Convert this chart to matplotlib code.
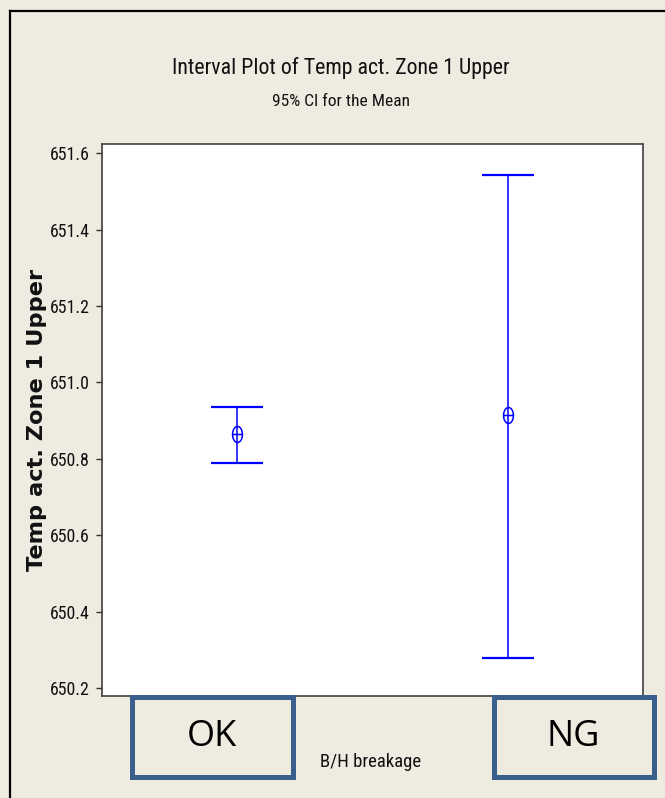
import matplotlib
matplotlib.use("Agg")
import matplotlib.pyplot as plt
from matplotlib.path import Path
from matplotlib.patches import Rectangle
from matplotlib.lines import Line2D
import numpy as np

# 95% confidence intervals for the mean, by breakage group
groups = ["OK", "NG"]
ci_mean = [650.866, 650.914]
ci_lower = [650.789, 650.278]
ci_upper = [650.936, 651.544]
y_ticks = [650.2, 650.4, 650.6, 650.8, 651.0, 651.2, 651.4, 651.6]

W, H = 665, 798
BG = "#eeebe1"
BLUE = "#0000ff"
BOX_EDGE = "#3a5f8d"
NARROW = ["Roboto Condensed", "Liberation Sans Narrow", "Liberation Sans",
          "DejaVu Sans"]


def fx(px):
    return px / W


def fy(py):
    return 1 - py / H


fig = plt.figure(figsize=(W / 100, H / 100), dpi=100, facecolor=BG)
ax = fig.add_axes([fx(102), fy(696), (643 - 102) / W, (696 - 144) / H])
ax.set_facecolor("white")

x = np.arange(1, len(groups) + 1)

# upright ellipse with a horizontal bar for the mean symbol
t = np.linspace(0, 2 * np.pi, 41)
ell = np.column_stack([0.31 * np.cos(t), 0.5 * np.sin(t)])
verts = list(ell) + [(-0.31, 0.0), (0.31, 0.0)]
codes = ([Path.MOVETO] + [Path.LINETO] * (len(ell) - 2) + [Path.CLOSEPOLY]
         + [Path.MOVETO, Path.LINETO])
mean_marker = Path(verts, codes)

mean = np.array(ci_mean)
yerr = [mean - np.array(ci_lower), np.array(ci_upper) - mean]
ax.errorbar(x, mean, yerr=yerr, fmt="none", ecolor=BLUE, elinewidth=1.1,
            capsize=18.7, capthick=1.6)
ax.plot(x, mean, linestyle="none", marker=mean_marker, markersize=11.5,
        markerfacecolor="none", markeredgecolor=BLUE, markeredgewidth=1.1)

ax.set_xlim(0.5, 2.5)
ax.set_ylim(650.179, 651.624)
ax.set_yticks(y_ticks)
ax.set_yticklabels([f"{v:.1f}" for v in y_ticks])
ax.set_xticks([])
ax.tick_params(axis="y", direction="out", length=4, width=1, color="#333333",
               pad=5, labelsize=13, labelcolor="#111111")
for lab in ax.get_yticklabels():
    lab.set_family(NARROW)
for sp in ax.spines.values():
    sp.set_color("#404040")
    sp.set_linewidth(1.2)

# titles and axis labels
title = fig.text(fx(341), fy(68), "Interval Plot of Temp act. Zone 1 Upper",
                 ha="center", va="center", fontsize=16, family=NARROW,
                 color="#111111")
subtitle = fig.text(fx(341), fy(102), "95% CI for the Mean",
                    ha="center", va="center", fontsize=12.5, family=NARROW,
                    color="#111111")
ylab = fig.text(fx(37), fy(420), "Temp act. Zone 1 Upper", rotation=90,
                ha="center", va="center", fontsize=13, fontweight="bold",
                family="DejaVu Sans", color="#111111")
xlab = fig.text(fx(371), fy(762), "B/H breakage", ha="center", va="center",
                fontsize=14, family=NARROW, color="#111111")

# group label boxes below the axis
for (x0, x1), name in zip([(131.5, 292.5), (493.5, 653.5)], groups):
    rect = Rectangle((fx(x0), fy(776.5)), (x1 - x0) / W, (776.5 - 696.5) / H,
                     transform=fig.transFigure, facecolor=BG,
                     edgecolor=BOX_EDGE, linewidth=3.6, zorder=5)
    fig.add_artist(rect)
    fig.text(fx((x0 + x1) / 2), fy(737), name, ha="center", va="center",
             fontsize=26, family="Open Sans", color="#000000", zorder=6)

# window frame edges
fig.add_artist(Line2D([fx(9.5), fx(9.5)], [0, fy(10.5)], color="#000000",
                      linewidth=1.6, transform=fig.transFigure))
fig.add_artist(Line2D([fx(9.5), 1], [fy(10.5), fy(10.5)], color="#000000",
                      linewidth=1.6, transform=fig.transFigure))

# size the texts so their rendered spans fit the layout
renderer = fig.canvas.get_renderer()


def fit(artist, target_px, vertical=False):
    bb = artist.get_window_extent(renderer)
    span = bb.height if vertical else bb.width
    artist.set_fontsize(artist.get_fontsize() * target_px / span)


fit(title, 340)
fit(subtitle, 138)
fit(xlab, 102)
fit(ylab, 300, vertical=True)

ticklabs = ax.get_yticklabels()
bb = ticklabs[-1].get_window_extent(renderer)
tick_size = 13 * 40 / bb.width
ax.tick_params(axis="y", labelsize=tick_size)

fig.savefig("out.png", dpi=100, facecolor=BG)
